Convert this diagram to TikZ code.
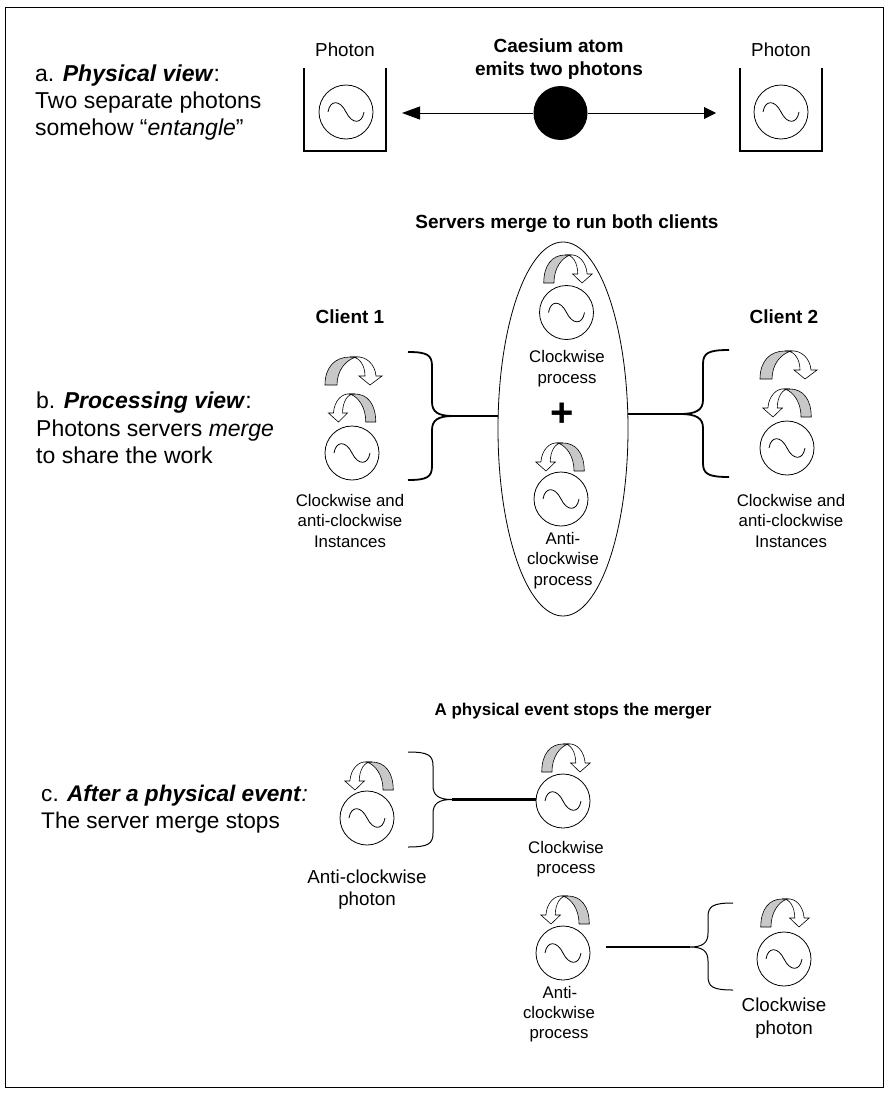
\documentclass[tikz,border=0pt]{standalone}
\usepackage{fontspec}
\setmainfont{Liberation Sans}
\usetikzlibrary{arrows.meta,shapes.geometric}
\definecolor{bandgray}{HTML}{C8C8C8}
\newcommand{\spinarrow}[3]{%
  \begin{scope}[shift={(#1,#2)},xscale=#3,line width=0.6pt]
    \draw[fill=bandgray] (-25,28) .. controls (-25,10) and (-15,0) .. (0,0) -- (6,0)
      .. controls (-4,3) and (-13,13) .. (-13,28) -- cycle;
    \draw[fill=white] (0,0) .. controls (9,-1) and (15,8) .. (15,19) -- (9,19) -- (20,28) -- (32,19) -- (26,19)
      .. controls (25,7) and (16,-1) .. (6,0) -- (0,0);
  \end{scope}}
\newcommand{\brc}[7]{% name, tip x, tip y, spine x, end x, top y, bottom y; opens toward end x
  \coordinate (#1) at (#2,#3);
  \draw[bracestyle] (#5,#6) .. controls ({#4+0.2*(#5-#4)},#6) and (#4,{#6+3}) .. (#4,{#6+14})
    -- (#4,{#3-14}) .. controls (#4,{#3-4}) and ({#4+0.3*(#2-#4)},#3) .. (#1)
    .. controls ({#4+0.3*(#2-#4)},#3) and (#4,{#3+4}) .. (#4,{#3+14})
    -- (#4,{#7-14}) .. controls (#4,{#7-3}) and ({#4+0.2*(#5-#4)},#7) .. (#5,#7);}
\tikzset{
  osc/.style={circle,draw,line width=0.8pt,minimum size=54pt,inner sep=0pt,
    path picture={\draw[line width=0.8pt,shift={(path picture bounding box.center)}]
      (-18,0) .. controls (-16,-12.4) and (-6,-12.4) .. (0,0) .. controls (6,12.4) and (16,12.4) .. (18,0);}},
  lab/.style={font=\fontsize{16.8}{20}\selectfont,inner sep=0pt,anchor=center,text height=12pt,text depth=0pt},
  biglab/.style={font=\fontsize{18.8}{22}\selectfont,inner sep=0pt,anchor=center,text height=13.5pt,text depth=0pt},
  head/.style={font=\fontsize{19}{22}\selectfont\bfseries,inner sep=0pt,anchor=center,text height=13.6pt,text depth=0pt},
  side/.style={font=\fontsize{23}{27}\selectfont,inner sep=0pt,anchor=west,text height=16pt,text depth=0pt},
  wall/.style={line width=1.6pt},
  thickbar/.style={line width=2.2pt},
  bracestyle/.style={line width=1.8pt},
  thinbrace/.style={bracestyle/.style={line width=1pt}},
}
\begin{document}
\begin{tikzpicture}[x=1pt,y=-1pt]
\useasboundingbox (0,0) rectangle (891,1095);
\draw[line width=1pt] (5,7) rectangle (883,1087);

% a
\node[side] (a1) at (35,73) {a. \textbf{\textit{Physical view}}:};
\node[side] (a2) at (35,100) {Two separate photons};
\node[side] (a3) at (35,127) {somehow “\textit{entangle}”};
\node[biglab] (pl) at (345,50) {Photon};
\node[biglab] (pr) at (781,50) {Photon};
\draw[wall] (304,68) -- (304,151) -- (386,151) -- (386,68);
\draw[wall] (740,68) -- (740,151) -- (822,151) -- (822,68);
\node[osc] (oa1) at (346,112) {};
\node[osc] (oa2) at (781,112) {};
\node[head] (ce1) at (558.5,46) {Caesium atom};
\node[head] (ce2) at (559,69) {emits two photons};
\node[circle,fill=black,minimum size=54pt,inner sep=0pt] (atom) at (560.5,113) {};
\coordinate (al) at (402,113);
\coordinate (ar) at (716,113);
\draw[line width=0.9pt,-{Triangle[length=18pt,width=13pt]}] (atom) -- (al);
\draw[line width=0.9pt,-{Triangle[length=12pt,width=12pt]}] (atom) -- (ar);

% b
\node[side] (b1) at (36,400) {b. \textbf{\textit{Processing view}}:};
\node[side] (b2) at (36,428) {Photons servers \textit{merge}};
\node[side] (b3) at (36,455) {to share the work};
\node[head] (st) at (567,222) {Servers merge to run both clients};
\node[ellipse,draw,line width=0.8pt,minimum width=130pt,minimum height=374pt,inner sep=0pt] (merge) at (563,429) {};
\node[head] (c1t) at (350,317) {Client 1};
\node[head] (c2t) at (784,317) {Client 2};

\spinarrow{350}{357}{1}
\spinarrow{355}{394}{-0.83}
\node[osc] (oc1) at (352,453) {};
\node[lab] at (350,500) {Clockwise and};
\node[lab] at (350,520) {anti-clockwise};
\node[lab] at (350,541) {Instances};

\spinarrow{785}{351}{1}
\spinarrow{790}{389}{-0.85}
\node[osc] (oc2) at (787,448) {};
\node[lab] at (791,500) {Clockwise and};
\node[lab] at (791,520) {anti-clockwise};
\node[lab] at (791,541) {Instances};

\spinarrow{565}{255}{0.85}
\node[osc] (om1) at (566.5,312.5) {};
\node[lab] at (567,356) {Clockwise};
\node[lab] at (567,377) {process};
\node[inner sep=0pt,font=\fontsize{40}{40}\selectfont\bfseries] (plus) at (562,415) {+};
\spinarrow{563}{443}{-0.85}
\node[osc] (om2) at (561,499) {};
\node[lab] at (563,538) {Anti-};
\node[lab] at (563,558) {clockwise};
\node[lab] at (563,579) {process};

\brc{tb1}{453}{416}{432}{408}{352}{480}
\brc{tb2}{680}{414}{703}{729}{350}{477}
\draw[thickbar] (tb1) -- (tb1 -| merge.west);
\draw[thickbar] (tb2) -- (tb2 -| merge.east);

% c
\node[side,font=\fontsize{22.6}{27}\selectfont] (c1) at (41,793) {c. \textbf{\textit{After a physical event}}\textit{:}};
\node[side,font=\fontsize{22.6}{27}\selectfont] (c2) at (41,820) {The server merge stops};
\node[head,font=\fontsize{17}{20}\selectfont\bfseries] (ct) at (573,709) {A physical event stops the merger};

\spinarrow{372}{762}{-0.85}
\node[osc] (ol) at (367,818) {};
\node[biglab] at (367,877) {Anti-clockwise};
\node[biglab] at (367,899) {photon};

\spinarrow{563}{744}{0.85}
\node[osc] (ocw) at (563,801) {};
\node[lab] at (566,847) {Clockwise};
\node[lab] at (566,867) {process};

\begin{scope}[thinbrace]
\brc{tc1}{452}{799.5}{433}{408}{752}{847}
\brc{tc2}{690}{947}{708}{733}{903}{990}
\end{scope}
\draw[thickbar] (tc1) -- (tc1 -| ocw.west);

\spinarrow{568}{896}{-0.85}
\node[osc] (oac) at (563,953) {};
\node[lab] at (560,992) {Anti-};
\node[lab] at (559,1012) {clockwise};
\node[lab] at (559,1032) {process};
\coordinate (cs) at (606,947);
\draw[thickbar] (tc2) -- (cs);

\spinarrow{782}{899}{0.85}
\node[osc] (op) at (784,959) {};
\node[biglab] at (784,1005) {Clockwise};
\node[biglab] at (784,1028) {photon};
\end{tikzpicture}
\end{document}
